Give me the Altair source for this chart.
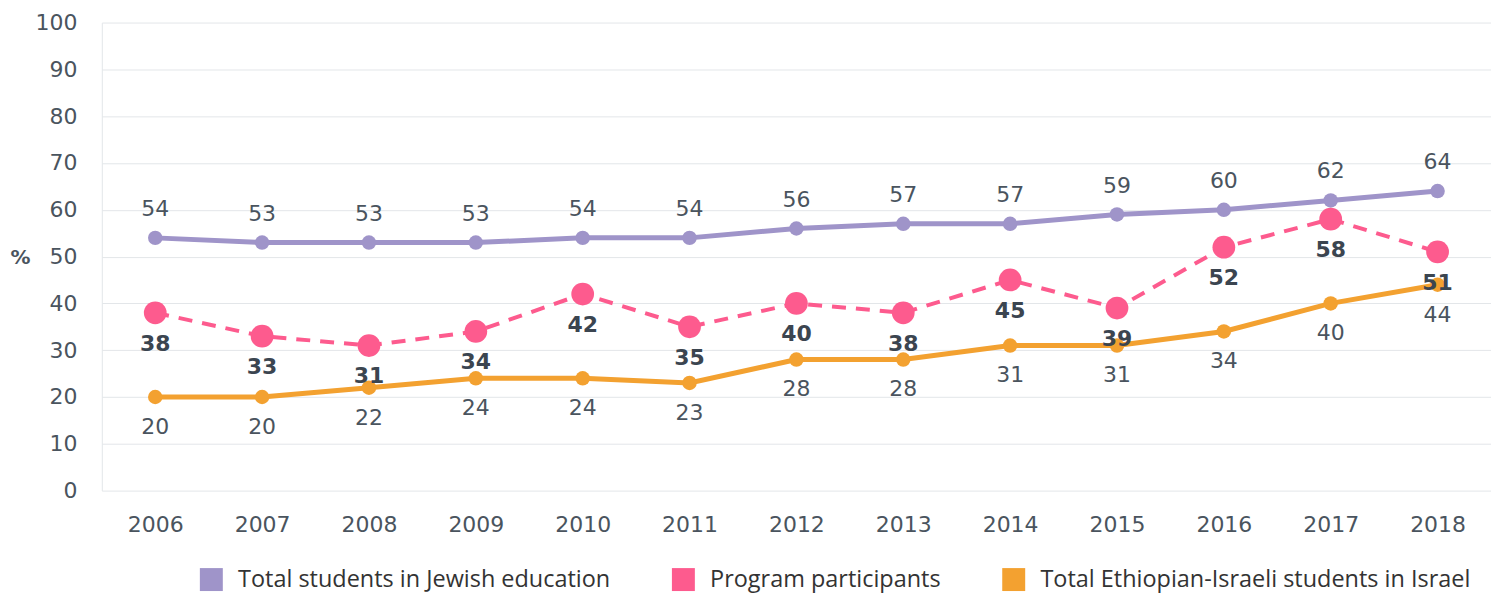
import altair as alt
import pandas as pd

years = [2006, 2007, 2008, 2009, 2010, 2011, 2012, 2013, 2014, 2015, 2016, 2017, 2018]
series_names = ["Total students in Jewish education", "Program participants", "Total Ethiopian-Israeli students in Israel"]
jewish = [54, 53, 53, 53, 54, 54, 56, 57, 57, 59, 60, 62, 64]
program = [38, 33, 31, 34, 42, 35, 40, 38, 45, 39, 52, 58, 51]
ethiopian = [20, 20, 22, 24, 24, 23, 28, 28, 31, 31, 34, 40, 44]
colors = ["#9f94c9", "#fd5b8e", "#f3a130"]

rows = []
for name, vals in zip(series_names, [jewish, program, ethiopian]):
    for y, v in zip(years, vals):
        rows.append({"year": str(y), "value": v, "series": name})
df = pd.DataFrame(rows)

FONT = "DejaVu Sans"
TXT = "#4a545e"

xenc = alt.X("year:O", scale=alt.Scale(type="point", padding=0.5),
             axis=alt.Axis(labelAngle=0, labelFontSize=22, labelColor=TXT, labelFont=FONT,
                           labelPadding=24, ticks=False, domain=False, grid=False, title=None))
yenc = alt.Y("value:Q", scale=alt.Scale(domain=[0, 100], nice=False),
             axis=alt.Axis(values=list(range(0, 101, 10)), labelFontSize=22, labelColor=TXT,
                           labelFont=FONT, labelPadding=25, ticks=False, domain=True,
                           domainColor="#e3e6e9", gridColor="#e3e6e9", gridWidth=1,
                           title="%", titleAngle=0, titleX=-82, titleY=235, titleAlign="center",
                           titleBaseline="middle", titleFontSize=20, titleColor=TXT,
                           titleFont=FONT, titleFontWeight="bold"))

color = alt.Color("series:N", scale=alt.Scale(domain=series_names, range=colors),
                  legend=alt.Legend(orient="none", legendX=98, legendY=546, direction="horizontal",
                                    title=None, symbolType="square", symbolSize=529,
                                    symbolStrokeWidth=0, symbolOpacity=1,
                                    labelFontSize=23.5,
                                    labelFont="Open Sans", labelColor="#333333", columnPadding=61,
                                    labelOffset=15, labelLimit=600))

base = alt.Chart(df)

def sel(i):
    return base.transform_filter(alt.datum.series == series_names[i])

line_j = sel(0).mark_line(strokeWidth=5, color=colors[0]).encode(x=xenc, y=yenc)
line_p = sel(1).mark_line(strokeWidth=4, color=colors[1], strokeDash=[14, 10]).encode(x=xenc, y=yenc)
line_e = sel(2).mark_line(strokeWidth=5, color=colors[2]).encode(x=xenc, y=yenc)

# legend carrier (invisible squares)
legend_layer = base.mark_square(opacity=0, size=0).encode(x=xenc, y=yenc, color=color)

pt_j = sel(0).mark_circle(size=210, opacity=1, color=colors[0]).encode(x=xenc, y=yenc)
pt_p = sel(1).mark_circle(size=520, opacity=1, color=colors[1]).encode(x=xenc, y=yenc)
pt_e = sel(2).mark_circle(size=210, opacity=1, color=colors[2]).encode(x=xenc, y=yenc)

lab_j = sel(0).mark_text(dy=-29, fontSize=22, font=FONT, color=TXT).encode(x=xenc, y=yenc, text="value:Q")
lab_p = sel(1).mark_text(dy=31, fontSize=22, font=FONT, color="#3b4550", fontWeight="bold").encode(
    x=xenc, y=yenc, text="value:Q")
lab_e = sel(2).mark_text(dy=30, fontSize=22, font=FONT, color=TXT).encode(x=xenc, y=yenc, text="value:Q")

chart = alt.layer(legend_layer, line_j, line_e, line_p, pt_j, pt_e, pt_p, lab_j, lab_e, lab_p).properties(
    width=1392, height=469,
    autosize=alt.AutoSizeParams(type="none"),
    padding={"left": 94, "top": 14, "right": 0, "bottom": 105},
).configure_view(stroke=None)

chart.save("out.html", embed_options={"renderer": "svg", "actions": False})
